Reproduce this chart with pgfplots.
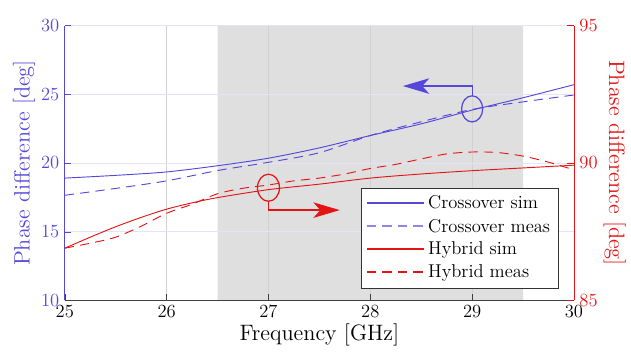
\documentclass[border=0pt]{standalone}
\usepackage{pgfplots}
\pgfplotsset{compat=1.18}
\usetikzlibrary{arrows.meta}
\definecolor{cblue}{rgb}{0.33,0.28,0.85}
\definecolor{cbluel}{rgb}{0.56,0.52,0.9}
\definecolor{cred}{rgb}{0.9,0.08,0.08}
\definecolor{shade}{rgb}{0.875,0.875,0.875}
\pgfplotsset{
  /pgfplots/legend image code/.code={\draw[#1, line width=0.8pt] (0bp,0.4bp) -- (37bp,0.4bp);},
  base/.style={scale only axis, width=328bp, height=177bp, xmin=25, xmax=30},
}
\pgfplotstableread{
x y
25 18.9
25.5 19.1
26 19.35
26.5 19.8
27 20.35
27.5 21.1
28 22.0
28.5 22.85
29 23.85
29.5 24.75
30 25.7
}\crosssim
\pgfplotstableread{
x y
25 17.65
25.5 18.15
26 18.7
26.5 19.45
27 20.05
27.5 20.75
28 22.0
28.5 23.0
29 23.9
29.5 24.45
30 24.95
}\crossmeas
\pgfplotstableread{
x y
25 86.9
25.25 87.3
25.5 87.68
25.75 88.02
26 88.32
26.25 88.55
26.5 88.74
27 89.03
27.5 89.23
28 89.45
28.5 89.6
29 89.72
29.5 89.82
30 89.92
}\hybsim
\pgfplotstableread{
x y
25 86.9
25.25 87.08
25.5 87.3
25.75 87.7
26 88.17
26.25 88.5
26.5 88.88
26.75 89.08
27 89.2
27.25 89.35
27.5 89.45
27.75 89.6
28 89.8
28.25 89.95
28.5 90.15
28.75 90.33
29 90.4
29.25 90.38
29.5 90.25
29.75 90.03
30 89.75
}\hybmeas
\begin{document}
\begin{tikzpicture}
% shaded band
\begin{axis}[base, ymin=10, ymax=30, hide axis]
\addplot[draw=none, fill=shade, forget plot]
  coordinates {(26.5,10) (26.5,30) (29.5,30) (29.5,10)} \closedcycle;
\end{axis}
% left axis
\begin{axis}[
  base, ymin=10, ymax=30,
  xtick={25,26,27,28,29,30}, ytick={10,15,20,25,30},
  axis x line*=bottom, axis y line*=left,
  x axis line style={black!75}, xtick style={black!75},
  y axis line style={cblue}, ytick style={cblue},
  yticklabel style={cblue},
  tick label style={font=\fontsize{12}{14}\selectfont},
  xmajorgrids, ymajorgrids,
  x grid style={black!18}, y grid style={cblue!15},
  xlabel={Frequency [GHz]},
  ylabel={Phase difference [deg]},
  label style={font=\fontsize{14.4}{17}\selectfont},
  ylabel style={cblue},
  ylabel shift=-3pt, xlabel shift=-3pt,
]
\addplot[cblue, line width=0.6pt, smooth] table {\crosssim};
\addplot[cblue, line width=0.6pt, smooth, dash pattern=on 6pt off 4pt] table {\crossmeas};
\draw[cblue, line width=0.8pt] (axis cs:29,23.94) ellipse [x radius=6.8bp, y radius=8.4bp];
\draw[cblue, line width=0.8pt, -{Stealth[length=17bp,width=10bp,inset=4.5bp]}]
  (axis cs:29,24.9) -- (axis cs:29,25.6) -- (axis cs:28.32,25.6);
\draw[cred, line width=0.8pt] (axis cs:27,18.2) ellipse [x radius=7.1bp, y radius=8.7bp];
\draw[cred, line width=0.8pt, -{Stealth[length=17bp,width=10bp,inset=4.5bp]}]
  (axis cs:27,17.23) -- (axis cs:27,16.57) -- (axis cs:27.7,16.57);
\end{axis}
% right axis
\begin{axis}[
  base, ymin=85, ymax=95,
  ytick={85,90,95},
  axis x line=none, axis y line*=right,
  y axis line style={cred}, ytick style={cred},
  yticklabel style={cred},
  tick label style={font=\fontsize{12}{14}\selectfont},
  ylabel={Phase difference [deg]},
  ylabel style={cred, font=\fontsize{14.4}{17}\selectfont, rotate=180},
  ylabel shift=-3pt,
  legend style={at={(0.969,0.044)}, anchor=south east, draw=black!80, fill=white,
    font=\fontsize{12}{14}\selectfont, row sep=1pt, inner sep=3pt, text=black},
  legend cell align=left,
]
\addlegendimage{cblue}
\addlegendentry{Crossover sim}
\addlegendimage{cbluel, dash pattern=on 6pt off 4pt}
\addlegendentry{Crossover meas}
\addplot[cred, line width=0.6pt, smooth] table {\hybsim};
\addlegendentry{Hybrid sim}
\addplot[cred, line width=0.6pt, smooth, dash pattern=on 6pt off 4pt] table {\hybmeas};
\addlegendentry{Hybrid meas}
\end{axis}
\path ([yshift=16bp]current axis.north) node[inner sep=0pt] {};
\path (current bounding box.west) ++(-4.5bp,0) node[inner sep=0pt] {};
\end{tikzpicture}
\end{document}
